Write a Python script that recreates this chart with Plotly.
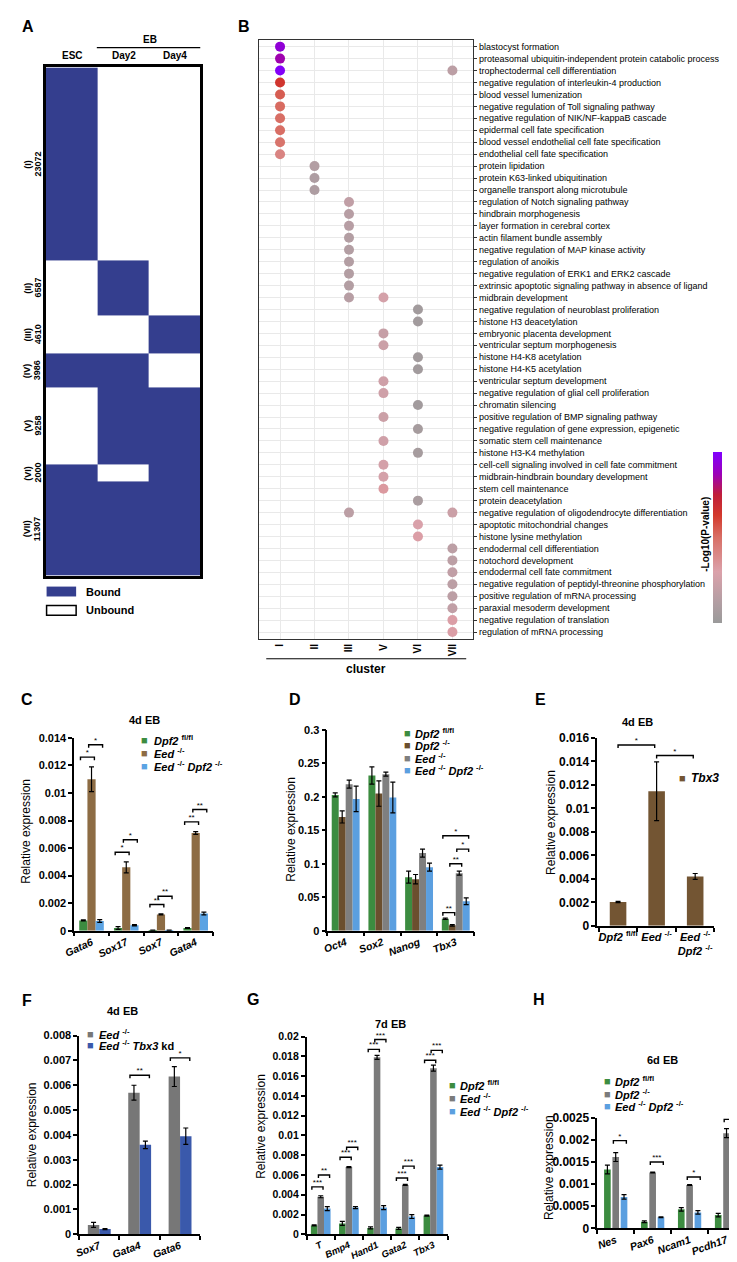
import plotly.graph_objects as go

W, H = 737, 1262
FONT = "Liberation Sans"


def fx(p):
    return p / W


def fy(p):
    return 1 - p / H


# ---------------- Panel A data ----------------
a_columns = ["ESC", "Day2", "Day4"]
a_cluster_names = ["(I)", "(II)", "(III)", "(IV)", "(V)", "(VI)", "(VII)"]
a_cluster_sizes = [23072, 6587, 4610, 3986, 9258, 2000, 11307]
a_bound = [[1, 0, 0], [0, 1, 0], [0, 0, 1], [1, 1, 0], [0, 1, 1], [1, 0, 1], [1, 1, 1]]
a_legend = ["Bound", "Unbound"]

# ---------------- Panel B data ----------------
b_terms = [
    "blastocyst formation",
    "proteasomal ubiquitin-independent protein catabolic process",
    "trophectodermal cell differentiation",
    "negative regulation of interleukin-4 production",
    "blood vessel lumenization",
    "negative regulation of Toll signaling pathway",
    "negative regulation of NIK/NF-kappaB cascade",
    "epidermal cell fate specification",
    "blood vessel endothelial cell fate specification",
    "endothelial cell fate specification",
    "protein lipidation",
    "protein K63-linked ubiquitination",
    "organelle transport along microtubule",
    "regulation of Notch signaling pathway",
    "hindbrain morphogenesis",
    "layer formation in cerebral cortex",
    "actin filament bundle assembly",
    "negative regulation of MAP kinase activity",
    "regulation of anoikis",
    "negative regulation of ERK1 and ERK2 cascade",
    "extrinsic apoptotic signaling pathway in absence of ligand",
    "midbrain development",
    "negative regulation of neuroblast proliferation",
    "histone H3 deacetylation",
    "embryonic placenta development",
    "ventricular septum morphogenesis",
    "histone H4-K8 acetylation",
    "histone H4-K5 acetylation",
    "ventricular septum development",
    "negative regulation of glial cell proliferation",
    "chromatin silencing",
    "positive regulation of BMP signaling pathway",
    "negative regulation of gene expression, epigenetic",
    "somatic stem cell maintenance",
    "histone H3-K4 methylation",
    "cell-cell signaling involved in cell fate commitment",
    "midbrain-hindbrain boundary development",
    "stem cell maintenance",
    "protein deacetylation",
    "negative regulation of oligodendrocyte differentiation",
    "apoptotic mitochondrial changes",
    "histone lysine methylation",
    "endodermal cell differentiation",
    "notochord development",
    "endodermal cell fate commitment",
    "negative regulation of peptidyl-threonine phosphorylation",
    "positive regulation of mRNA processing",
    "paraxial mesoderm development",
    "negative regulation of translation",
    "regulation of mRNA processing",
]
b_cluster_labels = ["I", "II", "III", "V", "VI", "VII"]
b_dot_term = [0, 1, 2, 2, 3, 4, 5, 6, 7, 8, 9, 10, 11, 12, 13, 14, 15, 16, 17, 18,
              19, 20, 21, 21, 22, 23, 24, 25, 26, 27, 28, 29, 30, 31, 32, 33, 34,
              35, 36, 37, 38, 39, 39, 40, 41, 42, 43, 44, 45, 46, 47, 48, 49]
b_dot_cluster = ["I", "I", "I", "VII", "I", "I", "I", "I", "I", "I", "I", "II", "II", "II",
                 "III", "III", "III", "III", "III", "III", "III", "III", "III", "V",
                 "VI", "VI", "V", "V", "VI", "VI", "V", "V", "VI", "V", "VI", "V", "VI",
                 "V", "V", "V", "VI", "III", "VII", "VI", "VI", "VII", "VII", "VII",
                 "VII", "VII", "VII", "VII", "VII"]
b_dot_logp = [24, 22.5, 25.5, 6, 17.5, 15, 14.2, 14, 14, 13.5, 12, 5, 4.5, 4.5,
              6.5, 5.5, 5.5, 5, 5, 5, 5, 5, 5.5, 8.5,
              3, 3, 7, 7.5, 3, 3, 8, 8, 3, 7.5, 3.5, 8, 3.5,
              8.5, 8.5, 10, 4, 6, 7.5, 9, 9.5, 6, 6, 6.5,
              6, 6, 6.5, 9.5, 9.5]
b_color_ticks = [5, 10, 15, 20, 25]
B_CMIN, B_CMAX = 2.1, 25.8

# ---------------- Panel C data ----------------
c_genes = ["Gata6", "Sox17", "Sox7", "Gata4"]
c_groups = ["Dpf2 fl/fl", "Eed -/-", "Eed -/- Dpf2 -/-"]
c_mean = [[0.00075, 0.0002, 0.00003, 0.0002],
          [0.0110, 0.0046, 0.00118, 0.0071],
          [0.0007, 0.0004, 0.00003, 0.00125]]
c_err = [[0.00004, 0.0001, 0.00001, 0.00003],
         [0.0009, 0.0004, 0.00004, 0.0001],
         [0.0001, 0.00005, 0.00001, 0.0001]]
c_sig = [(0, 0, 1, 0.0126, "*"), (0, 1, 2, 0.0135, "*"),
         (1, 0, 1, 0.0057, "*"), (1, 1, 2, 0.0066, "*"),
         (2, 0, 1, 0.0019, "**"), (2, 1, 2, 0.0025, "**"),
         (3, 0, 1, 0.0079, "**"), (3, 1, 2, 0.0088, "**")]

# ---------------- Panel D data ----------------
d_genes = ["Oct4", "Sox2", "Nanog", "Tbx3"]
d_groups = ["Dpf2 fl/fl", "Dpf2 -/-", "Eed -/-", "Eed -/- Dpf2 -/-"]
d_mean = [[0.203, 0.232, 0.080, 0.018],
          [0.170, 0.205, 0.077, 0.008],
          [0.219, 0.234, 0.116, 0.086],
          [0.197, 0.199, 0.095, 0.044]]
d_err = [[0.003, 0.013, 0.009, 0.001],
         [0.009, 0.019, 0.007, 0.001],
         [0.006, 0.003, 0.006, 0.003],
         [0.019, 0.023, 0.006, 0.005]]
d_sig = [(3, 0, 1, 0.027, "**"), (3, 1, 2, 0.100, "**"),
         (3, 2, 3, 0.122, "*"), (3, 0, 3, 0.142, "*")]

# ---------------- Panel E data ----------------
e_samples = ["Dpf2 fl/fl", "Eed -/-", "Eed -/- <br> Dpf2 -/-"]
e_series = ["Tbx3"]
e_mean = [[0.00202, 0.01145, 0.0042]]
e_err = [[0.00005, 0.0025, 0.00025]]
e_sig = [(0, 1, 0.0154, "*"), (1, 2, 0.0145, "*")]

# ---------------- Panel F data ----------------
f_genes = ["Sox7", "Gata4", "Gata6"]
f_groups = ["Eed -/-", "Eed -/- Tbx3 kd"]
f_mean = [[0.00038, 0.0057, 0.00635],
          [0.00021, 0.0036, 0.00395]]
f_err = [[0.0001, 0.0003, 0.0004],
         [0.00002, 0.00015, 0.00033]]
f_sig = [(1, 0, 1, 0.0064, "**"), (2, 0, 1, 0.0071, "*")]

# ---------------- Panel G data ----------------
g_genes = ["T", "Bmp4", "Hand1", "Gata2", "Tbx3"]
g_groups = ["Dpf2 fl/fl", "Eed -/-", "Eed -/- Dpf2 -/-"]
g_mean = [[0.0009, 0.0011, 0.00065, 0.0006, 0.0019],
          [0.0038, 0.0068, 0.0179, 0.0050, 0.0168],
          [0.0026, 0.0027, 0.0027, 0.0018, 0.0068]]
g_err = [[0.00005, 0.0002, 0.0001, 0.0001, 0.00005],
         [0.0001, 0.00005, 0.0002, 0.00005, 0.0003],
         [0.0002, 0.0001, 0.0002, 0.0002, 0.0002]]
g_sig = [(0, 0, 1, 0.0048, "***"), (0, 1, 2, 0.0060, "**"),
         (1, 0, 1, 0.0078, "***"), (1, 1, 2, 0.0088, "***"),
         (2, 0, 1, 0.0187, "***"), (2, 1, 2, 0.0197, "***"),
         (3, 0, 1, 0.0057, "***"), (3, 1, 2, 0.0069, "***"),
         (4, 0, 1, 0.0176, "***"), (4, 1, 2, 0.0186, "***")]

# ---------------- Panel H data ----------------
h_genes = ["Nes", "Pax6", "Ncam1", "Pcdh17"]
h_groups = ["Dpf2 fl/fl", "Dpf2 -/-", "Eed -/- Dpf2 -/-"]
h_mean = [[0.00133, 0.00015, 0.00043, 0.0003],
          [0.00161, 0.00126, 0.00098, 0.00215],
          [0.00071, 0.00025, 0.00036, 0.00042]]
h_err = [[0.0001, 0.00002, 0.00004, 0.00004],
         [0.0001, 0.00001, 0.00001, 0.0001],
         [0.00005, 0.00001, 0.00004, 0.00013]]
h_sig = [(0, 1, 2, 0.00198, "*"), (1, 1, 2, 0.00150, "***"),
         (2, 1, 2, 0.00116, "*"), (3, 1, 2, 0.00246, "*")]


def rich(name):
    out = []
    for tok in name.split(" "):
        if tok in ("fl/fl", "-/-"):
            out.append("<sup>" + tok + "</sup>")
        elif tok in ("kd", "<br>"):
            out.append(tok)
        else:
            out.append("<i>" + tok + "</i>")
    return " ".join(out).replace(" <br> ", "<br>")


fig = go.Figure()
layout = dict(width=W, height=H, margin=dict(l=0, r=0, t=0, b=0),
              paper_bgcolor="white", plot_bgcolor="white", showlegend=False,
              font=dict(family=FONT, color="black"))
annotations = []
shapes = []


def text(x, y, s, size=11, bold=True, angle=0, xanchor="center", color="black"):
    annotations.append(dict(x=fx(x), y=fy(y), xref="paper", yref="paper", text=s,
                            showarrow=False, xanchor=xanchor, yanchor="middle",
                            textangle=angle,
                            font=dict(family=FONT, size=size, color=color,
                                      weight="bold" if bold else "normal")))


# ================= Panel A =================
edges = [0]
for s in a_cluster_sizes:
    edges.append(edges[-1] + s)
fig.add_trace(go.Heatmap(z=a_bound, x=list(range(len(a_columns))), y=edges,
                         colorscale=[[0, "white"], [1, "#343e8e"]], zmin=0, zmax=1,
                         showscale=False, xaxis="x", yaxis="y", hoverinfo="skip"))
A_TOP, A_BOT, A_L, A_R = 53, 567, 27, 184
layout["xaxis"] = dict(domain=[fx(A_L), fx(A_R)], range=[-0.5, 2.5], anchor="y",
                       showticklabels=False, ticks="", showgrid=False, zeroline=False,
                       showline=True, mirror=True, linecolor="black", linewidth=3)
layout["yaxis"] = dict(domain=[fy(A_BOT), fy(A_TOP)], range=[edges[-1], 0], anchor="x",
                       showticklabels=False, ticks="", showgrid=False, zeroline=False,
                       showline=True, mirror=True, linecolor="black", linewidth=3)
col_w = (A_R - A_L) / 3
for i, c in enumerate(a_columns):
    text(A_L + col_w * (i + 0.5) + 1, 41, c, size=10)
text(133, 25, "EB", size=10)
shapes.append(dict(type="line", xref="paper", yref="paper", x0=fx(79), x1=fx(184),
                   y0=fy(33), y1=fy(33), line=dict(color="black", width=1.2)))
scale_a = (A_BOT - A_TOP) / edges[-1]
for i, (nm, cnt) in enumerate(zip(a_cluster_names, a_cluster_sizes)):
    yc = A_TOP + (edges[i] + edges[i + 1]) / 2 * scale_a
    text(9, yc, nm, size=9, angle=-90)
    text(19, yc, str(cnt), size=9, angle=-90)
shapes.append(dict(type="rect", xref="paper", yref="paper", x0=fx(28), x1=fx(58),
                   y0=fy(588), y1=fy(578), fillcolor="#343e8e", line=dict(width=0)))
shapes.append(dict(type="rect", xref="paper", yref="paper", x0=fx(28), x1=fx(58),
                   y0=fy(607), y1=fy(597), fillcolor="white",
                   line=dict(color="black", width=1.5)))
text(66, 583, a_legend[0], size=11, xanchor="left")
text(66, 602, a_legend[1], size=11, xanchor="left")

# ================= Panel B =================
b_cs = [[0, "#9a9a9a"], [0.12, "#b29ea3"], [0.3, "#dba1aa"], [0.5, "#d86f66"],
        [0.63, "#d3392c"], [0.75, "#c01e3a"], [0.87, "#9c00b8"], [1, "#8000ff"]]
CB_TOP, CB_BOT, CB_X = 442, 615, 705
fig.add_trace(go.Scatter(
    x=[b_cluster_labels.index(c) for c in b_dot_cluster], y=b_dot_term, mode="markers",
    marker=dict(size=10, color=b_dot_logp, colorscale=b_cs, cmin=B_CMIN, cmax=B_CMAX,
                line=dict(width=0), showscale=True,
                colorbar=dict(x=fx(CB_X), xanchor="left", xpad=0, ypad=0,
                              y=fy((CB_TOP + CB_BOT) / 2), yanchor="middle",
                              len=(CB_BOT - CB_TOP) / H, lenmode="fraction", thickness=9,
                              thicknessmode="pixels", outlinewidth=0,
                              tickvals=b_color_ticks, ticks="", showticklabels=False)),
    xaxis="x2", yaxis="y2", hoverinfo="skip"))
for v in b_color_ticks:
    yv = CB_BOT - (v - B_CMIN) / (B_CMAX - B_CMIN) * (CB_BOT - CB_TOP)
    text(725, yv, str(v), size=9, bold=False, angle=-90)
layout["xaxis2"] = dict(domain=[fx(244), fx(461)], range=[-0.6, 5.6], anchor="y2",
                        tickmode="array", tickvals=list(range(len(b_cluster_labels))),
                        ticktext=b_cluster_labels, tickangle=-90, ticks="",
                        tickfont=dict(size=10, family=FONT, weight="bold"),
                        showgrid=True, gridcolor="#e9e9e9", gridwidth=1.2, zeroline=False,
                        showline=True, mirror=True, linecolor="#333333", linewidth=1)
layout["yaxis2"] = dict(domain=[fy(631), fy(25)], range=[len(b_terms) - 0.42, -0.58],
                        anchor="x2", side="right", tickmode="array",
                        tickvals=list(range(len(b_terms))), ticktext=b_terms,
                        ticks="outside", ticklen=3, tickcolor="#333333",
                        tickfont=dict(size=9, family=FONT, color="black"),
                        showgrid=True, gridcolor="#e9e9e9", gridwidth=1.2, zeroline=False,
                        showline=True, mirror=True, linecolor="#333333", linewidth=1)
shapes.append(dict(type="line", xref="paper", yref="paper", x0=fx(251), x1=fx(454),
                   y0=fy(651), y1=fy(651), line=dict(color="black", width=1)))
text(352, 661, "cluster", size=12)
text(697, 525, "-Log10(P-value)", size=10, angle=-90)


# ================= Bar panels =================
def bar_panel(ax, cats, groups, colors, means, errs, dom_x, dom_y, yrange, dtick,
              bar_w, step, tickangle, sig, xrange_, cat_size=10.5, tick_size=11):
    xa, ya = "x" + ax, "y" + ax
    k, n = len(groups), len(cats)

    def pos(c, j):
        return c + (j - (k - 1) / 2) * step

    for j in range(k):
        fig.add_trace(go.Bar(x=[pos(c, j) for c in range(n)], y=means[j], width=bar_w,
                             marker=dict(color=colors[j], line=dict(width=0)),
                             error_y=dict(type="data", array=errs[j], visible=True,
                                          color="black", thickness=1.2, width=2.5),
                             xaxis=xa, yaxis=ya, hoverinfo="skip"))
    tick = (yrange[1] - yrange[0]) / (dom_y[1] - dom_y[0]) * 3
    bx, by, sx, sy, st = [], [], [], [], []
    for item in sig:
        if len(item) == 5:
            c, j1, j2, yv, lab = item
            x1 = pos(c, j1) - 0.35 * bar_w
            x2 = pos(c, j2) + 0.35 * bar_w
        else:
            j1, j2, yv, lab = item
            x1, x2 = j1, j2 - 0.05
        bx += [x1, x1, x2, x2, None]
        by += [yv - tick, yv, yv, yv - tick, None]
        sx.append((x1 + x2) / 2)
        sy.append(yv)
        st.append(lab)
    fig.add_trace(go.Scatter(x=bx, y=by, mode="lines", line=dict(color="black", width=1.4),
                             xaxis=xa, yaxis=ya, hoverinfo="skip"))
    fig.add_trace(go.Scatter(x=sx, y=sy, mode="text", text=st, textposition="top center",
                             textfont=dict(size=8, family=FONT, color="black"),
                             cliponaxis=False, xaxis=xa, yaxis=ya, hoverinfo="skip"))
    layout["xaxis" + ax] = dict(
        domain=[fx(dom_x[0]), fx(dom_x[1])], range=xrange_, anchor=ya, tickmode="array",
        tickvals=list(range(n)), ticktext=[rich(c) for c in cats], tickangle=tickangle,
        ticks="", showgrid=False, zeroline=False, showline=True, linecolor="black",
        linewidth=1.5, tickfont=dict(size=cat_size, family=FONT, weight="bold"),
        minor=dict(tickmode="array", tickvals=[c - 0.5 for c in range(n + 1)],
                   ticks="outside", ticklen=4, tickwidth=1.5, tickcolor="black"))
    layout["yaxis" + ax] = dict(
        domain=[fy(dom_y[1]), fy(dom_y[0])], range=yrange, anchor=xa, tick0=0,
        dtick=dtick, tickformat="~g", ticks="outside", ticklen=4, tickwidth=1.5,
        tickcolor="black", showline=True, linecolor="black", linewidth=1.5,
        showgrid=False, zeroline=False,
        tickfont=dict(size=tick_size, family=FONT, weight="bold"))


def legend_block(x_sw, x_txt, ys, names, colors, size=11):
    for y, nm, col in zip(ys, names, colors):
        text(x_sw, y, "■", size=11, bold=False, xanchor="left", color=col)
        text(x_txt, y, rich(nm), size=size, xanchor="left")


# C
bar_panel("3", c_genes, c_groups, ["#3c8c40", "#8d6c44", "#5ba3e3"], c_mean, c_err,
          (56, 197), (731, 926), [0, 0.014], 0.002, 0.236, 0.236, -25, c_sig, [-0.5, 3.5])
legend_block(122, 135, [733, 746, 759], c_groups, ["#3c8c40", "#8d6c44", "#5ba3e3"])
text(127, 713, "4d EB", size=11)
text(7, 825, "Relative expression", size=12, bold=False, angle=-90)

# D
bar_panel("4", d_genes, d_groups, ["#3c8c40", "#6b4f2e", "#7f7f7f", "#5b9fe0"], d_mean,
          d_err, (313, 462), (723, 926), [0, 0.3], 0.05, 0.19, 0.19, -20, d_sig,
          [-0.5, 3.5])
legend_block(389, 400, [726, 738, 751, 763], d_groups,
             ["#3c8c40", "#6b4f2e", "#7f7f7f", "#5b9fe0"])
text(276, 823, "Relative expression", size=12, bold=False, angle=-90)

# E
bar_panel("5", e_samples, e_series, ["#735533"], e_mean, e_err, (587, 706), (731, 921),
          [0, 0.016], 0.002, 0.43, 0.43, 0, e_sig, [-0.54, 2.5], cat_size=11,
          tick_size=12)
legend_block(668, 680, [772], e_series, ["#735533"], size=12)
text(628, 715, "4d EB", size=11)
text(540, 816, "Relative expression", size=12, bold=False, angle=-90)

# F
bar_panel("6", f_genes, f_groups, ["#777777", "#3a59ab"], f_mean, f_err, (61, 184),
          (1032, 1233), [0, 0.008], 0.001, 0.283, 0.283, -20, f_sig, [-0.5, 2.5])
legend_block(67, 79, [1030, 1042], f_groups, ["#777777", "#3a59ab"])
text(105, 1007, "4d EB", size=11)
text(14, 1132, "Relative expression", size=12, bold=False, angle=-90)

# G
bar_panel("7", g_genes, g_groups, ["#3c8c40", "#7b7b7b", "#5b9fe0"], g_mean, g_err,
          (292, 435), (1033, 1233), [0, 0.02], 0.002, 0.233, 0.233, -25, g_sig,
          [-0.5, 4.5], cat_size=9.5, tick_size=10.5)
legend_block(434, 446, [1082, 1095, 1108], g_groups, ["#3c8c40", "#7b7b7b", "#5b9fe0"])
text(377, 1020, "7d EB", size=11)
text(245, 1124, "Relative expression", size=12, bold=False, angle=-90)

# H
bar_panel("8", h_genes, h_groups, ["#3c8c40", "#7b7b7b", "#5b9fe0"], h_mean, h_err,
          (587, 737), (1115, 1227), [0, 0.0025], 0.0005, 0.18, 0.225, -20, h_sig,
          [-0.5, 3.5], tick_size=12)
legend_block(592, 603, [1078, 1091, 1103], h_groups, ["#3c8c40", "#7b7b7b", "#5b9fe0"])
text(653, 1057, "6d EB", size=11)
text(538, 1165, "Relative expression", size=12, bold=False, angle=-90)

# panel letters
for lab, x, y in [("A", 9, 12), ("B", 228, 12), ("C", 8, 692), ("D", 280, 692),
                  ("E", 529, 692), ("F", 8, 997), ("G", 238, 996), ("H", 528, 996)]:
    text(x, y, lab, size=16)

layout["annotations"] = annotations
layout["shapes"] = shapes
fig.update_layout(**layout)
fig.write_html("out.html")
